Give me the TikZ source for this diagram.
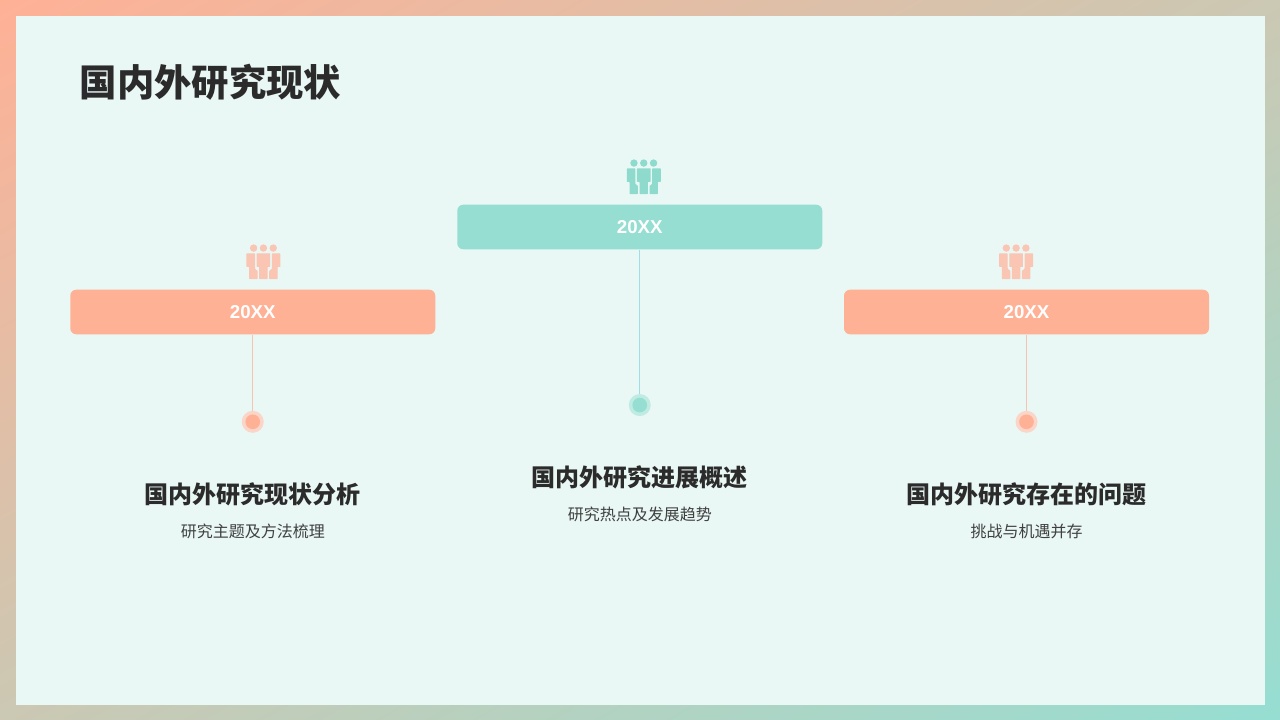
\documentclass[tikz,border=0pt]{standalone}
\usepackage{fontspec}
\setmainfont{Liberation Sans}
\newfontfamily\cjk{Noto Sans CJK SC}
\usetikzlibrary{positioning,shadings}
\definecolor{peach}{HTML}{FFB196}
\definecolor{peachsoft}{HTML}{FAC5B2}
\definecolor{peachline}{HTML}{F4C4B4}
\definecolor{peachring}{HTML}{FBD5C8}
\definecolor{mint}{HTML}{96DED2}
\definecolor{mintsoft}{HTML}{8EDBCD}
\definecolor{mintline}{HTML}{A0DEE6}
\definecolor{mintring}{HTML}{BFEBE3}
\definecolor{blend}{HTML}{CBC8B3}
\definecolor{paper}{HTML}{E9F8F5}
\definecolor{ink}{HTML}{2B2B2B}
\tikzset{
    bar/.style={rounded corners=4.5pt,minimum width=273.75pt,minimum height=33.4pt,inner sep=0pt,
        text=white,font=\bfseries\fontsize{14pt}{16pt}\selectfont},
    ring/.style={circle,minimum size=16.5pt,inner sep=0pt},
    core/.style={circle,minimum size=11pt,inner sep=0pt},
    iconbox/.style={minimum width=25.5pt,minimum height=26pt,inner sep=0pt},
    link/.style={line width=0.75pt},
    heading/.style={font=\cjk\bfseries\fontsize{18pt}{22pt}\selectfont,text=ink,inner sep=0pt,text height=15.5pt,text depth=2pt},
    caption/.style={font=\cjk\fontsize{12pt}{15pt}\selectfont,text=ink!90,inner sep=0pt,text height=10.5pt,text depth=1.5pt},
    people/.pic={
        % heads
        \fill (-9.8,-13.8) circle (3.7);
        \fill (0,-13.8) circle (3.7);
        \fill (9.8,-13.8) circle (3.7);
        % middle figure
        \fill[rounded corners=0.4pt] (-6.8,-8.6) -- (6.8,-8.6) -- (6.8,5) -- (4.2,5) -- (4.2,17.2) -- (-4.2,17.2) -- (-4.2,5) -- (-6.8,5) -- cycle;
        % side figures
        \fill[rounded corners=0.4pt] (-17,-8.4) -- (-8.4,-8.4) -- (-8.4,7) -- (-5.8,9) -- (-5.8,17.2) -- (-14.2,17.2) -- (-14.2,5) -- (-17,5) -- cycle;
        \fill[rounded corners=0.4pt] (17,-8.4) -- (8.4,-8.4) -- (8.4,7) -- (5.8,9) -- (5.8,17.2) -- (14.2,17.2) -- (14.2,5) -- (17,5) -- cycle;
    }
}

\begin{document}
\begin{tikzpicture}[x=0.75pt,y=-0.75pt]
    \useasboundingbox (0,0) rectangle (1280,720);
    \shade[upper left=peach,upper right=blend,lower left=blend,lower right=mint] (0,0) rectangle (1280,720);
    \fill[paper] (16,16) rectangle (1265,705);
    \node[anchor=west,inner sep=0pt,font=\cjk\bfseries\fontsize{28pt}{32pt}\selectfont,text=ink] (title) at (79.5,82) {国内外研究现状};

    \node[bar,fill=peach] (barleft) at (252.75,312) {20XX};
    \node[bar,fill=mint] (barmid) at (639.75,227) {20XX};
    \node[bar,fill=peach] (barright) at (1026.5,312) {20XX};

    \node[iconbox] (iconleft) [above=7.5pt of barleft, xshift=8pt] {};
    \node[iconbox] (iconmid) [above=7.5pt of barmid, xshift=3pt] {};
    \node[iconbox] (iconright) [above=7.5pt of barright, xshift=-7.8pt] {};
    \pic[peachsoft] at (iconleft) {people};
    \pic[mintsoft] at (iconmid) {people};
    \pic[peachsoft] at (iconright) {people};

    \node[ring,fill=peachring] (ringleft) [below=57pt of barleft] {};
    \node[ring,fill=mintring] (ringmid) [below=108.2pt of barmid] {};
    \node[ring,fill=peachring] (ringright) [below=57pt of barright] {};
    \node[core,fill=peach] (coreleft) at (ringleft) {};
    \node[core,fill=mint] (coremid) at (ringmid) {};
    \node[core,fill=peach] (coreright) at (ringright) {};
    \draw[link,peachline] (barleft) -- (ringleft);
    \draw[link,mintline] (barmid) -- (ringmid);
    \draw[link,peachline] (barright) -- (ringright);

    \node[heading] (headleft) [below=36.75pt of ringleft] {国内外研究现状分析};
    \node[heading] (headmid) [below=36.75pt of ringmid] {国内外研究进展概述};
    \node[heading] (headright) [below=36.75pt of ringright] {国内外研究存在的问题};
    \node[caption] (capleft) [below=13pt of headleft] {研究主题及方法梳理};
    \node[caption] (capmid) [below=13pt of headmid] {研究热点及发展趋势};
    \node[caption] (capright) [below=13pt of headright] {挑战与机遇并存};
\end{tikzpicture}
\end{document}
